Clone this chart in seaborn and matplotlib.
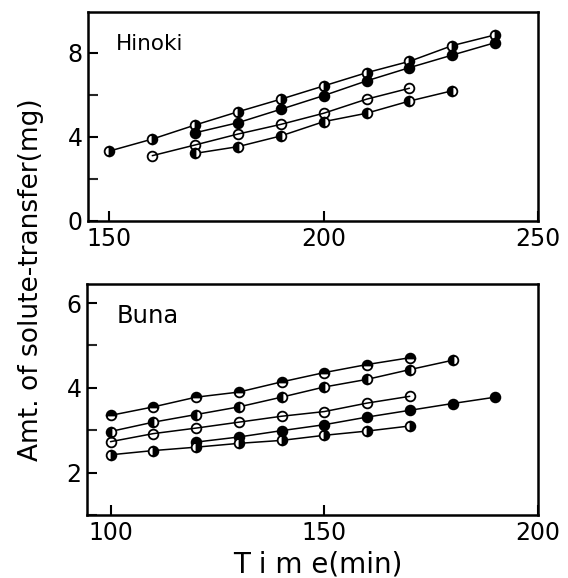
import matplotlib
matplotlib.use("Agg")
import matplotlib.pyplot as plt
import seaborn as sns
import numpy as np
from matplotlib.ticker import MultipleLocator

# ---- data ----
hinoki_t1 = [150, 160, 170, 180, 190, 200, 210, 220, 230, 240]
hinoki_y1 = [3.33, 3.9, 4.57, 5.2, 5.8, 6.43, 7.06, 7.6, 8.35, 8.86]
hinoki_t2 = [170, 180, 190, 200, 210, 220, 230, 240]
hinoki_y2 = [4.2, 4.68, 5.32, 5.97, 6.67, 7.3, 7.9, 8.49]
hinoki_t3 = [160, 170, 180, 190, 200, 210, 220]
hinoki_y3 = [3.11, 3.62, 4.14, 4.6, 5.13, 5.8, 6.32]
hinoki_t4 = [170, 180, 190, 200, 210, 220, 230]
hinoki_y4 = [3.22, 3.54, 4.05, 4.73, 5.13, 5.71, 6.2]

buna_t1 = [100, 110, 120, 130, 140, 150, 160, 170]
buna_y1 = [3.35, 3.55, 3.78, 3.9, 4.14, 4.36, 4.55, 4.71]
buna_t2 = [100, 110, 120, 130, 140, 150, 160, 170, 180]
buna_y2 = [2.97, 3.19, 3.37, 3.55, 3.78, 4.02, 4.2, 4.43, 4.65]
buna_t3 = [100, 110, 120, 130, 140, 150, 160, 170]
buna_y3 = [2.73, 2.92, 3.05, 3.19, 3.33, 3.44, 3.64, 3.8]
buna_t4 = [120, 130, 140, 150, 160, 170, 180, 190]
buna_y4 = [2.72, 2.84, 2.99, 3.13, 3.31, 3.47, 3.63, 3.78]
buna_t5 = [100, 110, 120, 130, 140, 150, 160, 170]
buna_y5 = [2.42, 2.52, 2.6, 2.69, 2.76, 2.88, 2.98, 3.1]

sns.set_style("white")
plt.rcParams['font.family'] = ['DejaVu Sans']
plt.rcParams['text.color'] = 'black'

fig = plt.figure(figsize=(5.68, 5.78), dpi=100)
W, H = 568, 578
ax1 = fig.add_axes([88 / W, 1 - 221 / H, (538 - 88) / W, (221 - 12) / H])
ax2 = fig.add_axes([87 / W, 1 - 515 / H, (538 - 87) / W, (515 - 284) / H])

def draw(ax, t, y, fs):
    sns.lineplot(x=t, y=y, ax=ax, color='black', lw=1.1, marker='o',
                 markersize=7, fillstyle=fs, markerfacecolor='black',
                 markerfacecoloralt='white', markeredgecolor='black',
                 markeredgewidth=1.3)

draw(ax1, hinoki_t1, hinoki_y1, 'right')
draw(ax1, hinoki_t2, hinoki_y2, 'full')
draw(ax1, hinoki_t3, hinoki_y3, 'none')
draw(ax1, hinoki_t4, hinoki_y4, 'left')

draw(ax2, buna_t1, buna_y1, 'top')
draw(ax2, buna_t2, buna_y2, 'left')
draw(ax2, buna_t3, buna_y3, 'none')
draw(ax2, buna_t4, buna_y4, 'full')
draw(ax2, buna_t5, buna_y5, 'right')

ax1.set_xlim(145, 250)
ax1.set_ylim(0, 9.95)
ax1.set_xticks([150, 200, 250])
ax1.set_yticks([0, 4, 8])
ax1.yaxis.set_minor_locator(MultipleLocator(2))

ax2.set_xlim(94.5, 200)
ax2.set_ylim(1.0, 6.45)
ax2.set_xticks([100, 150, 200])
ax2.set_yticks([2, 4, 6])
ax2.yaxis.set_minor_locator(MultipleLocator(1))

for ax in (ax1, ax2):
    for s in ax.spines.values():
        s.set_visible(True)
        s.set_color('black')
        s.set_linewidth(1.8)
    ax.tick_params(axis='both', which='major', direction='in', length=7,
                   width=1.5, labelsize=17, colors='black', pad=4,
                   left=True, bottom=True, top=False, right=False)
    ax.tick_params(axis='y', which='minor', direction='in', length=7,
                   width=1.5, left=True, right=False)
    ax.set_xlabel('')
    ax.set_ylabel('')

ax1.text(0.062, 0.818, 'Hinoki', transform=ax1.transAxes, fontsize=15.5,
         va='baseline', ha='left', color='black')
ax2.text(0.066, 0.831, 'Buna', transform=ax2.transAxes, fontsize=17.5,
         va='baseline', ha='left', color='black')

fig.text(31 / W, 1 - 280 / H, 'Amt. of solute-transfer(mg)', rotation=90,
         fontsize=19, va='center', ha='center', color='black')
fig.text(318 / W, 1 - 564 / H, 'T i m e(min)', fontsize=20,
         va='center', ha='center', color='black')

fig.savefig('out.png', dpi=100)
